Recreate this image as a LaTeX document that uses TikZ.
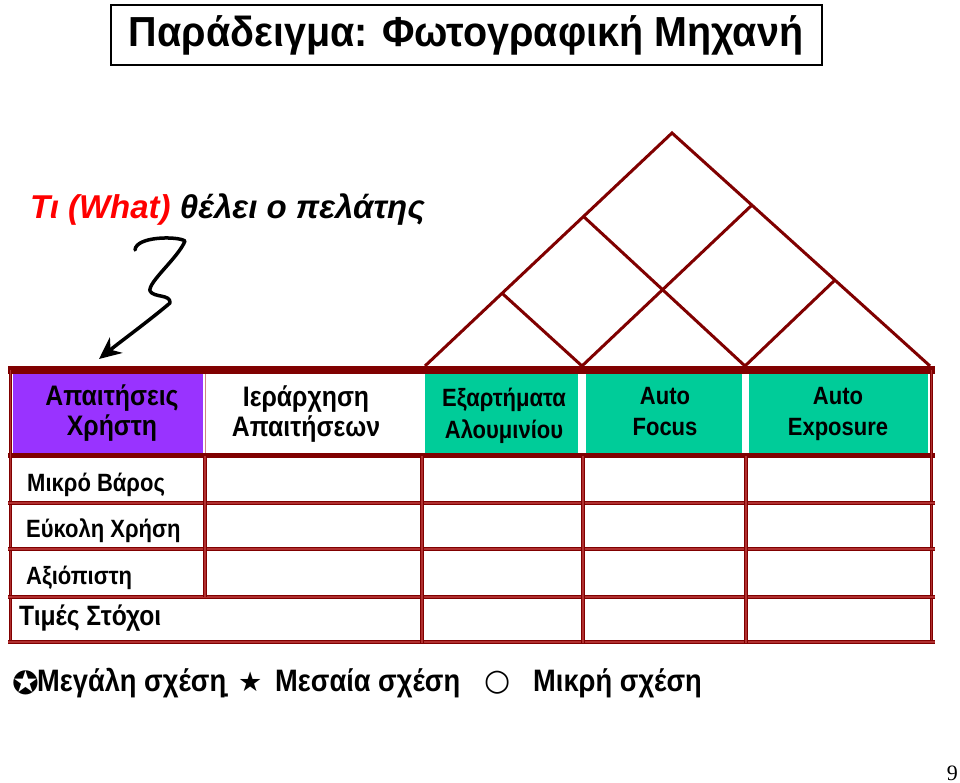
\documentclass[tikz,border=0pt]{standalone}
\usepackage{fontspec}
\setmainfont{Liberation Sans}
\newfontfamily\nar[FakeStretch=0.88]{Liberation Sans}
\newfontfamily\titlefont[FakeStretch=0.94]{Liberation Sans}
\newfontfamily\serifnum{Liberation Serif}
\newfontfamily\sym{DejaVu Sans}
\usetikzlibrary{arrows.meta}
\newcommand\lnph{\vphantom{Άρ}}
\definecolor{tabred}{HTML}{800000}
\definecolor{tabmid}{HTML}{B03030}
\definecolor{hdrpurple}{HTML}{9933FF}
\definecolor{hdrteal}{HTML}{00CC99}
\definecolor{whatred}{HTML}{FF0000}
\tikzset{
  gridline/.style={draw=tabred, line width=1.1pt, double=tabmid, double distance=1.1pt},
  roofline/.style={draw=tabred, line width=3pt},
  hdrtext/.style={font=\nar\bfseries\fontsize{28.2}{30}\selectfont, align=center, inner sep=0pt},
  hdrsmall/.style={font=\nar\bfseries\fontsize{25}{31.5}\selectfont, align=center, inner sep=0pt},
  rowtext/.style={font=\nar\bfseries\fontsize{25}{28}\selectfont, anchor=west, inner sep=0pt},
  legtext/.style={font=\nar\bfseries\fontsize{31}{36}\selectfont, anchor=west, inner sep=0pt},
  legsym/.style={font=\sym\fontsize{32}{34}\selectfont, anchor=west, inner sep=0pt},
}
\begin{document}
\begin{tikzpicture}[x=1pt,y=-1pt]
\useasboundingbox (0,0) rectangle (960,783);
\fill[white] (0,0) rectangle (960,783);

% title
\node[draw=black, line width=2pt, minimum width=711pt, minimum height=60pt, inner sep=0pt,
      font=\titlefont\bfseries\fontsize{42}{46}\selectfont] (title) at (466,35.5) {Παράδειγμα: Φωτογραφική Μηχανή};

% what
\node[anchor=base west, inner sep=0pt, font=\bfseries\itshape\fontsize{33}{36}\selectfont] (what) at (30,219)
  {\textcolor{whatred}{Τι (What)} θέλει ο πελάτης};

% squiggle arrow
\coordinate (sqA) at (135,250);
\coordinate (sqB) at (185,241);
\coordinate (sqC) at (150,291);
\coordinate (sqD) at (170,303);
\coordinate (sqE) at (99,359);
\draw[line width=3.5pt, line cap=round, line join=round, -{Stealth[length=22pt,width=20pt]}]
  (sqA) .. controls (136,236) and (178,236) .. (sqB)
        .. controls (178,258) and (148,282) .. (sqC)
        .. controls (154,298) and (171,294) .. (sqD)
        .. controls (150,320) and (120,342) .. (sqE);

% header fills
\fill[hdrpurple] (13,374) rectangle (203,453);
\fill[hdrteal] (425,374) rectangle (578,453);
\fill[hdrteal] (586,374) rectangle (742,453);
\fill[hdrteal] (749,374) rectangle (928,453);
\draw[draw=tabmid!60!white, line width=1pt] (205,374) -- (205,453);

% roof
\coordinate (apex) at (672,133);
\coordinate (r0) at (425,366);
\coordinate (r1) at (582,366);
\coordinate (r2) at (745,366);
\coordinate (r3) at (930,366);
\coordinate (l1) at (501.8,293);
\coordinate (l2) at (583,216);
\coordinate (q1) at (752,205);
\coordinate (q2) at (835,280);
\draw[roofline] (r0) -- (apex) -- (r3);
\draw[roofline] (l1) -- (r1) -- (q1);
\draw[roofline] (l2) -- (r2) -- (q2);

% grid
\fill[tabred] (8,366) rectangle (935,374);
\fill[tabred] (8,453) rectangle (935,458);
\draw[gridline] (10.5,370) -- (10.5,642.5);
\draw[gridline] (931.5,370) -- (931.5,642.5);
\foreach \yy in {503,549,597,642}{
  \draw[gridline] (8,\yy) -- (935,\yy);
}
\draw[gridline] (205,456) -- (205,597);
\foreach \xx in {422,583,746}{
  \draw[gridline] (\xx,456) -- (\xx,642.5);
}

% header texts
\node[hdrtext] (h1) at (112,413.5) {Απαιτήσεις\lnph\\Χρήστη\lnph};
\node[hdrtext] (h2) at (306,414.5) {Ιεράρχηση\lnph\\Απαιτήσεων\lnph};
\node[hdrsmall] (h3) at (504,416) {Εξαρτήματα\lnph\\Αλουμινίου\lnph};
\node[hdrsmall] (h4) at (665,414) {Auto\lnph\\Focus\lnph};
\node[hdrsmall] (h5) at (838,414) {Auto\lnph\\Exposure\lnph};

% row labels
\node[rowtext] (w1) at (27,485) {Μικρό Βάρος};
\node[rowtext] (w2) at (26,531) {Εύκολη Χρήση};
\node[rowtext] (w3) at (26,578) {Αξιόπιστη};
\node[rowtext, font=\nar\bfseries\fontsize{28}{30}\selectfont] (w4) at (19,618) {Τιμές Στόχοι};

% legend
\node[legsym] (s1) at (12,683) {✪};
\node[legtext] (t1) at (37,683) {Μεγάλη σχέση̣};
\node[legsym, font=\sym\fontsize{27}{34}\selectfont] (s2) at (238,682) {★};
\node[legtext] (t2) at (275,683) {Μεσαία σχέση};
\node[legsym, font=\sym\fontsize{30}{34}\selectfont] (s3) at (484,683) {○};
\node[legtext] (t3) at (533,683) {Μικρή σχέση};

% page number
\node[anchor=base east, inner sep=0pt, font=\serifnum\fontsize{22}{24}\selectfont] (pg) at (958,780) {9};
\end{tikzpicture}
\end{document}
